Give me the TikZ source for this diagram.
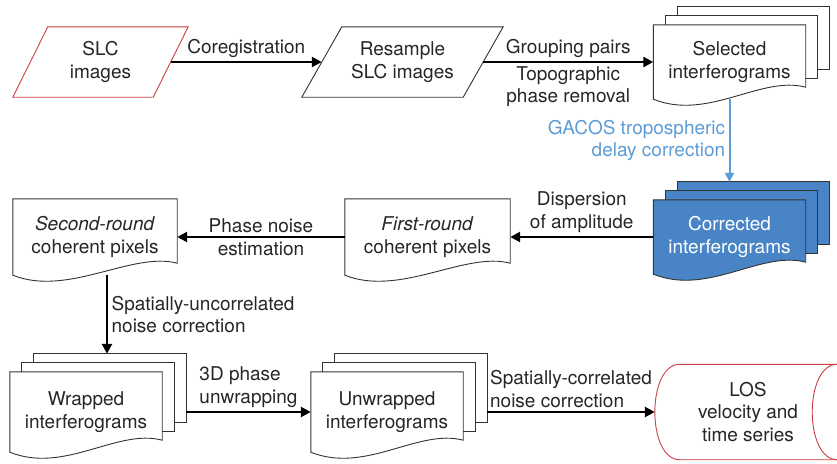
\documentclass[tikz,border=0pt]{standalone}
\usepackage{fontspec}
\setmainfont{TeX Gyre Heros}
\usetikzlibrary{positioning,arrows.meta,calc,backgrounds}
\definecolor{slcred}{RGB}{205,62,66}
\definecolor{corrblue}{RGB}{72,132,198}
\definecolor{gacosblue}{RGB}{92,156,214}
\tikzset{
  flow/.style={-{Triangle[length=10pt,width=10pt]}, line width=2.6pt},
  gacos/.style={flow, draw=gacosblue, line width=2pt, -{Triangle[length=9pt,width=9pt]}},
  parabox/.style={minimum height=70pt, align=center, inner sep=0pt},
  docbox/.style={minimum width=152pt, minimum height=74pt, align=center, inner sep=0pt},
  docline/.style={draw=black!80, line width=0.9pt},
}
% outlines drawn round the named nodes
\newcommand\paraline[3]{\draw[line width=0.9pt,draw=#3,fill=white]
  ([xshift=#2]#1.north west) -- ([xshift=#2]#1.north east) --
  ([xshift=-#2]#1.south east) -- ([xshift=-#2]#1.south west) -- cycle;}
\newcommand\docfront[2]{\draw[docline,fill=#2]
  (#1.north west) -- (#1.north east) -- ($(#1.south east)+(0,-12)$)
  .. controls +(-45,-12) and +(55,22) .. (#1.south west) -- cycle;}
\newcommand\docstack[2]{%
  \draw[docline,fill=#2] ($(#1.north west)+(24,-18)$) rectangle ($(#1.south east)+(24,-30)$);
  \draw[docline,fill=#2] ($(#1.north west)+(12,-9)$) rectangle ($(#1.south east)+(12,-21)$);
  \docfront{#1}{#2}}
\begin{document}
\begin{tikzpicture}[x=1pt, y=-1pt, font=\fontsize{19pt}{22.5pt}\selectfont, text=black!85]
  \useasboundingbox (0,0) rectangle (837,463);
  \node (slc) [parabox, minimum width=140pt] at (100.5,62) {SLC\\images};
  \node (res) [parabox, minimum width=161pt, node distance=302pt, right of=slc] {Resample\\SLC images};
  \node (sel) [docbox, node distance=327pt, right of=res] {Selected\\interferograms};
  \node (corr) [docbox, text=white, node distance=175pt, below of=sel] {Corrected\\interferograms};
  \node (first) [docbox, minimum width=165pt, minimum height=76pt, node distance=302pt, left of=corr] {\textit{First-round}\\coherent pixels};
  \node (second) [docbox, minimum width=164pt, minimum height=76pt, node distance=332.5pt, left of=first] {\textit{Second-round}\\coherent pixels};
  \node (wrap) [docbox, minimum height=80pt, node distance=175pt, below of=second, xshift=-9pt] {Wrapped\\interferograms};
  \node (unwrap) [docbox, minimum height=80pt, node distance=301pt, right of=wrap] {Unwrapped\\interferograms};
  \node (los) [minimum width=136pt, minimum height=95pt, align=center, inner sep=0pt,
    node distance=361pt, right of=unwrap] {LOS\\velocity and\\time series};
  \begin{pgfonlayer}{background}
    \paraline{slc}{17.5pt}{slcred}
    \paraline{res}{20pt}{black!80}
    \docstack{sel}{white}
    \docstack{corr}{corrblue}
    \docfront{first}{white}
    \docfront{second}{white}
    \docstack{wrap}{white}
    \docstack{unwrap}{white}
    % cylinder lying on its side
    \draw[line width=0.9pt, draw=slcred, fill=white] (los.north west) -- ([xshift=21pt]los.north east)
      .. controls +(33.3,0) and +(33.3,0) .. ([xshift=21pt]los.south east) -- (los.south west)
      .. controls +(-33.3,0) and +(-33.3,0) .. (los.north west) -- cycle;
    \draw[line width=0.9pt, draw=slcred] ([xshift=21pt]los.north east)
      .. controls +(-33.3,0) and +(-33.3,0) .. ([xshift=21pt]los.south east);
  \end{pgfonlayer}
  \draw[flow] (slc) to node [above,midway] {Coregistration} (res);
  \draw[flow] (res) to node [above,midway] {Grouping pairs}
    node [below,midway,align=center] {Topographic\\phase removal} (sel);
  \draw[gacos] (sel) to node [left,midway,align=right,text=gacosblue] {GACOS tropospheric\\delay correction}
    ([yshift=18pt]corr.north);
  \draw[flow] (corr) to node [above,midway,align=center] {Dispersion\\of amplitude} (first);
  \draw[flow] (first) to node [above,midway] {Phase noise} node [below,midway] {estimation} (second);
  \draw[flow] ([xshift=12pt]second.south) to node [right,midway,align=left] {Spatially-uncorrelated\\noise correction}
    ([xshift=21pt,yshift=18pt]wrap.north);
  \draw[flow] ([xshift=24pt]wrap.east) to node [above,midway,align=left] {3D phase\\unwrapping} (unwrap.west);
  \draw[flow] ([xshift=24pt]unwrap.east) to node [above,midway,align=left] {Spatially-correlated\\noise correction}
    ([xshift=-25pt]los.west);
\end{tikzpicture}
\end{document}
